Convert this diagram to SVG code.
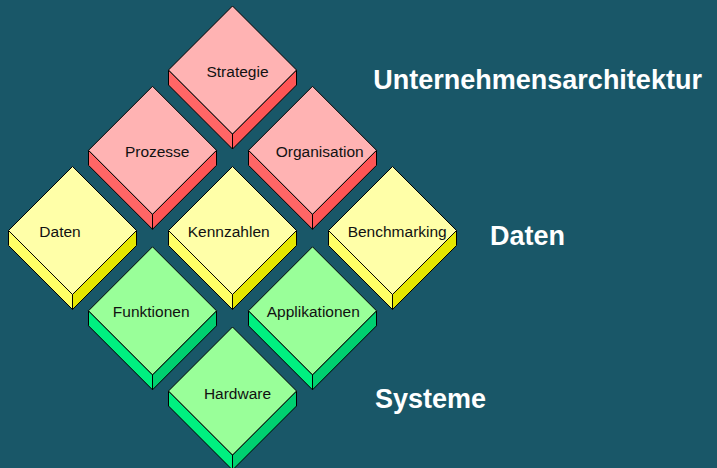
<svg xmlns="http://www.w3.org/2000/svg" xmlns:xlink="http://www.w3.org/1999/xlink" width="717" height="468" viewBox="0 0 717 468">
<style>
  .edge { stroke: #000; stroke-width: 1; stroke-linejoin: miter; }
  .lbl { font-family: "Liberation Sans", Arial, sans-serif; font-size: 15.5px; fill: #111; text-anchor: middle; }
  .head { font-family: "Liberation Sans", Arial, sans-serif; font-size: 27px; font-weight: bold; fill: #fff; }
</style>
<defs>
  <g id="red">
    <polygon class="edge" fill="#FF6666" points="-64,0 0,64 0,79 -64,15"/>
    <polygon class="edge" fill="#FF5555" points="0,64 64,0 64,15 0,79"/>
    <polygon class="edge" fill="#FFB3B3" points="0,-64 64,0 0,64 -64,0"/>
  </g>
  <g id="yellow">
    <polygon class="edge" fill="#FFFF66" points="-64,0 0,64 0,79 -64,15"/>
    <polygon class="edge" fill="#E6E600" points="0,64 64,0 64,15 0,79"/>
    <polygon class="edge" fill="#FFFFA8" points="0,-64 64,0 0,64 -64,0"/>
  </g>
  <g id="green">
    <polygon class="edge" fill="#00F080" points="-64,0 0,64 0,79 -64,15"/>
    <polygon class="edge" fill="#00D070" points="0,64 64,0 64,15 0,79"/>
    <polygon class="edge" fill="#99FF99" points="0,-64 64,0 0,64 -64,0"/>
  </g>
</defs>
<rect x="0" y="0" width="717" height="468" fill="#195768"/>
<g id="connectors"/>
<g id="n-strategie">
  <use xlink:href="#red" href="#red" x="232.5" y="70"/>
  <text class="lbl" x="237.5" y="77">Strategie</text>
</g>
<g id="n-prozesse">
  <use xlink:href="#red" href="#red" x="152.5" y="150.3"/>
  <text class="lbl" x="157.2" y="157.3">Prozesse</text>
</g>
<g id="n-organisation">
  <use xlink:href="#red" href="#red" x="312.5" y="150.3"/>
  <text class="lbl" x="319.7" y="157.3">Organisation</text>
</g>
<g id="n-daten">
  <use xlink:href="#yellow" href="#yellow" x="72.5" y="230.5"/>
  <text class="lbl" x="60" y="237.3">Daten</text>
</g>
<g id="n-kennzahlen">
  <use xlink:href="#yellow" href="#yellow" x="232.5" y="230.5"/>
  <text class="lbl" x="228.7" y="237.3">Kennzahlen</text>
</g>
<g id="n-benchmarking">
  <use xlink:href="#yellow" href="#yellow" x="392.5" y="230.5"/>
  <text class="lbl" x="397.2" y="237.3">Benchmarking</text>
</g>
<g id="n-funktionen">
  <use xlink:href="#green" href="#green" x="152.5" y="310.8"/>
  <text class="lbl" x="151.2" y="317.3">Funktionen</text>
</g>
<g id="n-applikationen">
  <use xlink:href="#green" href="#green" x="312.5" y="310.8"/>
  <text class="lbl" x="313.3" y="317.3">Applikationen</text>
</g>
<g id="n-hardware">
  <use xlink:href="#green" href="#green" x="232.5" y="391"/>
  <text class="lbl" x="237.5" y="398.5">Hardware</text>
</g>
<g id="headings">
  <text class="head" x="373.3" y="89.3">Unternehmensarchitektur</text>
  <text class="head" x="490" y="245">Daten</text>
  <text class="head" x="375" y="407.5">Systeme</text>
</g>
</svg>
